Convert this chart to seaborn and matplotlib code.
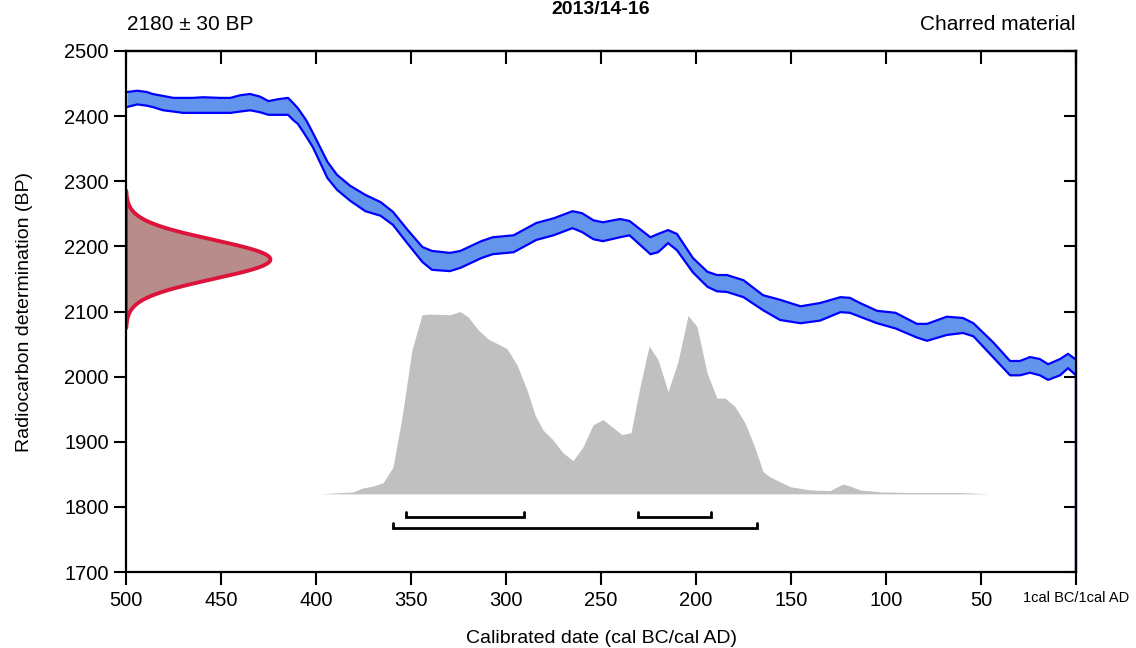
import numpy as np
import pandas as pd
import matplotlib
import matplotlib.pyplot as plt
import seaborn as sns

matplotlib.use("Agg")

title = "2013/14-16"
date_label = "2180 ± 30 BP"
material_label = "Charred material"
c14_mean = 2180
c14_error = 30

# calibration curve envelope (years BC, upper / lower BP)
cal_years = [499.5, 494, 489, 486, 480.5, 475, 470, 464.7, 459.5, 450.5, 445, 440,
             434.7, 429.5, 425, 420, 414.7, 412, 409.5, 405, 401.6, 394, 389, 382,
             374, 366, 359.5, 352, 344, 339, 329.5, 324, 313, 307, 296, 284, 275,
             265, 260, 254, 249, 240, 235, 224, 220, 214.7, 210, 201.6, 194, 189,
             183.7, 175, 164.7, 155.8, 145, 134.7, 124, 119, 113.7, 104.7, 95, 83.7,
             78.4, 68, 59.5, 54, 43.7, 34.7, 29.5, 24.2, 19, 14.7, 8.4, 4.2, 0]
cal_upper = [2437, 2439, 2437, 2434, 2431, 2428, 2428, 2428, 2429, 2428, 2428, 2432,
             2434, 2430, 2423, 2426, 2428, 2420, 2412, 2393, 2374, 2330, 2310, 2293,
             2279, 2268, 2253, 2226, 2199, 2193, 2190, 2193, 2208, 2214, 2217, 2236,
             2243, 2254, 2251, 2240, 2237, 2242, 2239, 2214, 2219, 2225, 2219, 2182,
             2161, 2156, 2156, 2148, 2125, 2118, 2108, 2113, 2122, 2121, 2113, 2101,
             2098, 2081, 2081, 2092, 2090, 2082, 2053, 2024, 2024, 2030, 2027, 2019,
             2027, 2035, 2026]
cal_lower = [2414, 2418, 2416, 2414, 2409, 2407, 2405, 2405, 2405, 2405, 2405, 2407,
             2409, 2406, 2402, 2402, 2402, 2394, 2388, 2368, 2352, 2305, 2287, 2270,
             2254, 2247, 2233, 2205, 2176, 2164, 2162, 2167, 2182, 2188, 2191, 2210,
             2217, 2228, 2222, 2211, 2208, 2214, 2217, 2188, 2191, 2205, 2194, 2160,
             2138, 2131, 2130, 2122, 2102, 2087, 2082, 2086, 2099, 2098, 2092, 2082,
             2074, 2060, 2055, 2064, 2067, 2062, 2030, 2002, 2002, 2006, 2002, 1995,
             2002, 2013, 2002]

# calibrated probability distribution (years BC, relative height)
post_years = [397.9, 380.5, 375.3, 370, 364.7, 359.5, 354.7, 349.5, 344.2, 340, 329.5,
              324.2, 320, 314.7, 309.5, 299.5, 294.2, 289, 284.7, 280.5, 275.3, 270,
              264.7, 259.5, 254.2, 249, 244.2, 239, 234.2, 229.5, 224.7, 220, 214.7,
              209.5, 204.2, 199.5, 194.2, 189, 184.7, 179.5, 174.2, 169, 164.7, 161,
              150.5, 140, 129.5, 122.6, 119, 113.7, 103, 87.4, 61, 45.3]
post_height = [0, 3, 9, 12, 17, 41, 118, 221, 275, 276, 275, 280, 272, 252, 238, 223,
               198, 160, 121, 98, 83, 63, 51, 72, 106, 114, 103, 91, 94, 164, 227, 206,
               157, 203, 274, 257, 186, 147, 147, 134, 109, 71, 34, 26, 11, 6, 5, 15,
               12, 6, 3, 2, 2, 0]
post_base = 1820

# highest posterior density ranges (years BC)
range_68 = [(352.6, 290.5), (230.5, 192.0)]
range_95 = [(359.5, 168.0)]

x_ticks = [500, 450, 400, 350, 300, 250, 200, 150, 100, 50, 0]
x_tick_labels = ["500", "450", "400", "350", "300", "250", "200", "150", "100", "50",
                 "1cal BC/1cal AD"]
y_ticks = [1700, 1800, 1900, 2000, 2100, 2200, 2300, 2400, 2500]

sns.set_style("ticks")
plt.rcParams["font.family"] = ["Liberation Sans", "DejaVu Sans"]
plt.rcParams["text.color"] = "black"
plt.rcParams["axes.labelcolor"] = "black"
plt.rcParams["xtick.color"] = "black"
plt.rcParams["ytick.color"] = "black"

curve = pd.DataFrame({"year": cal_years, "upper": cal_upper, "lower": cal_lower})
post = pd.DataFrame({"year": post_years, "height": post_height})

fig = plt.figure(figsize=(11.36, 6.48), dpi=100)
ax = fig.add_axes([126 / 1136, 1 - 572 / 648, 950 / 1136, 521 / 648])

# calibrated distribution
ax.fill_between(post["year"], post_base, post_base + post["height"],
                color="#c0c0c0", lw=0, zorder=1)


def bracket(x0, x1, y, tick=8):
    ax.plot([x0, x0, x1, x1], [y + tick, y, y, y + tick], color="black", lw=2,
            solid_joinstyle="miter", zorder=2)


for a, b in range_68:
    bracket(a, b, 1784)
for a, b in range_95:
    bracket(a, b, 1767)

# calibration curve
ax.fill_between(curve["year"], curve["lower"], curve["upper"], color="#6495ed",
                lw=0, zorder=3)
sns.lineplot(data=curve, x="year", y="upper", color="#0000ff", lw=1.6, ax=ax,
             sort=False, zorder=4)
sns.lineplot(data=curve, x="year", y="lower", color="#0000ff", lw=1.6, ax=ax,
             sort=False, zorder=4)
ax.vlines(cal_years[-1], y_ticks[0], cal_lower[-1], color="#0000ff", lw=1.6, zorder=4)

# radiocarbon measurement
bp = np.linspace(c14_mean - 3.5 * c14_error, c14_mean + 3.5 * c14_error, 200)
dens = np.exp(-0.5 * ((bp - c14_mean) / c14_error) ** 2)
x_meas = 500 - 76 * dens
ax.fill_betweenx(bp, 500, x_meas, color="#b98c8c", lw=0, zorder=5)
ax.plot(x_meas, bp, color="#dc143c", lw=2.8, zorder=6)
ax.plot([500, 500], [bp[0], bp[-1]], color="#dc143c", lw=2.8, zorder=6)

ax.set_xlim(500, 0)
ax.set_ylim(1700, 2500)
ax.set_xticks(x_ticks)
ax.set_xticklabels(x_tick_labels)
ax.set_yticks(y_ticks)
ax.set_ylabel("")
ax.set_xlabel("")
ax.tick_params(axis="both", direction="out", length=9, width=1.5, labelsize=14.5)
ax.tick_params(axis="x", pad=5)
ax.get_xticklabels()[-1].set_fontsize(10.5)

top = ax.secondary_xaxis("top")
top.set_xticks(x_ticks)
top.tick_params(direction="in", length=9, width=1.5, labeltop=False)
right = ax.secondary_yaxis("right")
right.set_yticks(y_ticks)
right.tick_params(direction="in", length=9, width=1.5, labelright=False)
for a in (ax, top, right):
    for s in a.spines.values():
        s.set_linewidth(1.6)
        s.set_color("black")
        s.set_zorder(10)

ax.set_xlabel("Calibrated date (cal BC/cal AD)", fontsize=14, labelpad=14)
ax.set_ylabel("Radiocarbon determination (BP)", fontsize=14, labelpad=22)

fig.text(127 / 1136, 1 - 25 / 648, date_label, fontsize=15, ha="left", va="center")
fig.text(1076 / 1136, 1 - 25 / 648, material_label, fontsize=15, ha="right",
         va="center")
fig.text(601 / 1136, 1 - 1 / 648, title, fontsize=14, fontweight="bold",
         ha="center", va="top")

fig.savefig("out.png", dpi=100)
